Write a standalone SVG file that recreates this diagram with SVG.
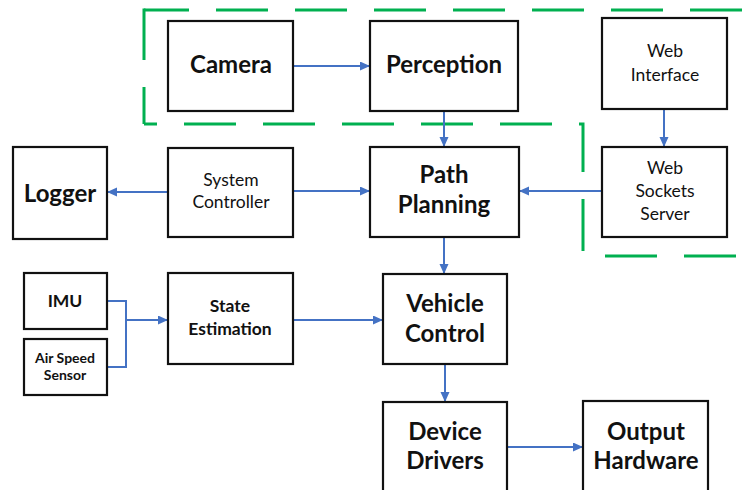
<svg xmlns="http://www.w3.org/2000/svg" width="747" height="490" viewBox="0 0 747 490">
  <style>
    .box { fill: #ffffff; stroke: #111111; stroke-width: 2.2; }
    .big { font-family: Lato, "Liberation Sans", sans-serif; font-weight: bold; font-size: 24px; fill: #111111; text-anchor: middle; }
    .mid { font-family: Lato, "Liberation Sans", sans-serif; font-size: 17.5px; fill: #111111; text-anchor: middle; }
    .midb { font-family: Lato, "Liberation Sans", sans-serif; font-weight: bold; font-size: 17.5px; fill: #111111; text-anchor: middle; }
    .sm { font-family: Lato, "Liberation Sans", sans-serif; font-weight: bold; font-size: 14px; fill: #111111; text-anchor: middle; }
    .link { fill: none; stroke: #4472C4; stroke-width: 2; }
    .zone { fill: none; stroke: #00B050; stroke-width: 3; stroke-dasharray: 52 27; }
  </style>
  <defs>
    <marker id="arrow" markerUnits="userSpaceOnUse" markerWidth="10" markerHeight="10" refX="10" refY="4.5" orient="auto">
      <path d="M0,0 L10,4.5 L0,9 z" fill="#4472C4"/>
    </marker>
  </defs>

  <!-- dashed boundary around the vision / web subsystems -->
  <g id="boundary">
    <path class="zone" d="M144,10 H747" stroke-dashoffset="7"/>
    <path class="zone" d="M144,8.5 V124" stroke-dashoffset="0.5"/>
    <path class="zone" d="M144,124 H583 V256 H747" stroke-dashoffset="39"/>
  </g>

  <!-- connectors -->
  <g id="connectors">
    <line class="link" x1="293" y1="66" x2="370" y2="66" marker-end="url(#arrow)"/>
    <line class="link" x1="444" y1="111" x2="444" y2="147" marker-end="url(#arrow)"/>
    <line class="link" x1="664" y1="109" x2="664" y2="147" marker-end="url(#arrow)"/>
    <line class="link" x1="168" y1="192" x2="107" y2="192" marker-end="url(#arrow)"/>
    <line class="link" x1="293" y1="191" x2="370" y2="191" marker-end="url(#arrow)"/>
    <line class="link" x1="602" y1="191" x2="519" y2="191" marker-end="url(#arrow)"/>
    <line class="link" x1="444" y1="237" x2="444" y2="274" marker-end="url(#arrow)"/>
    <polyline class="link" points="107,301 126,301 126,367 107,367"/>
    <line class="link" x1="126" y1="320" x2="168" y2="320" marker-end="url(#arrow)"/>
    <line class="link" x1="293" y1="320" x2="383" y2="320" marker-end="url(#arrow)"/>
    <line class="link" x1="445" y1="364" x2="445" y2="402" marker-end="url(#arrow)"/>
    <line class="link" x1="507" y1="447" x2="583" y2="447" marker-end="url(#arrow)"/>
  </g>

  <g id="camera">
    <rect class="box" x="168" y="21" width="125" height="90"/>
    <text class="big" x="231" y="73">Camera</text>
  </g>
  <g id="perception">
    <rect class="box" x="370" y="21" width="148" height="90"/>
    <text class="big" x="444" y="73">Perception</text>
  </g>
  <g id="web-interface">
    <rect class="box" x="602" y="18" width="125" height="91"/>
    <text class="mid" x="665" y="57">Web</text>
    <text class="mid" x="665" y="81">Interface</text>
  </g>
  <g id="logger">
    <rect class="box" x="13" y="147" width="94" height="92"/>
    <text class="big" x="60" y="202">Logger</text>
  </g>
  <g id="system-controller">
    <rect class="box" x="168" y="148" width="125" height="89"/>
    <text class="mid" x="231" y="186">System</text>
    <text class="mid" x="231" y="208">Controller</text>
  </g>
  <g id="path-planning">
    <rect class="box" x="370" y="147" width="149" height="90"/>
    <text class="big" x="444" y="183">Path</text>
    <text class="big" x="444" y="213">Planning</text>
  </g>
  <g id="web-sockets-server">
    <rect class="box" x="602" y="147" width="125" height="90"/>
    <text class="mid" x="665" y="174">Web</text>
    <text class="mid" x="665" y="197">Sockets</text>
    <text class="mid" x="665" y="220">Server</text>
  </g>
  <g id="imu">
    <rect class="box" x="24" y="273" width="83" height="56"/>
    <text class="midb" x="65" y="307">IMU</text>
  </g>
  <g id="air-speed-sensor">
    <rect class="box" x="24" y="339" width="83" height="56"/>
    <text class="sm" x="65" y="363">Air Speed</text>
    <text class="sm" x="65" y="380">Sensor</text>
  </g>
  <g id="state-estimation">
    <rect class="box" x="168" y="273" width="125" height="91"/>
    <text class="midb" x="230" y="312">State</text>
    <text class="midb" x="230" y="335">Estimation</text>
  </g>
  <g id="vehicle-control">
    <rect class="box" x="383" y="274" width="124" height="90"/>
    <text class="big" x="445" y="312">Vehicle</text>
    <text class="big" x="445" y="342">Control</text>
  </g>
  <g id="device-drivers">
    <rect class="box" x="383" y="402" width="124" height="95"/>
    <text class="big" x="445" y="440">Device</text>
    <text class="big" x="445" y="469">Drivers</text>
  </g>
  <g id="output-hardware">
    <rect class="box" x="583" y="401" width="125" height="96"/>
    <text class="big" x="646" y="440">Output</text>
    <text class="big" x="646" y="469">Hardware</text>
  </g>
</svg>
